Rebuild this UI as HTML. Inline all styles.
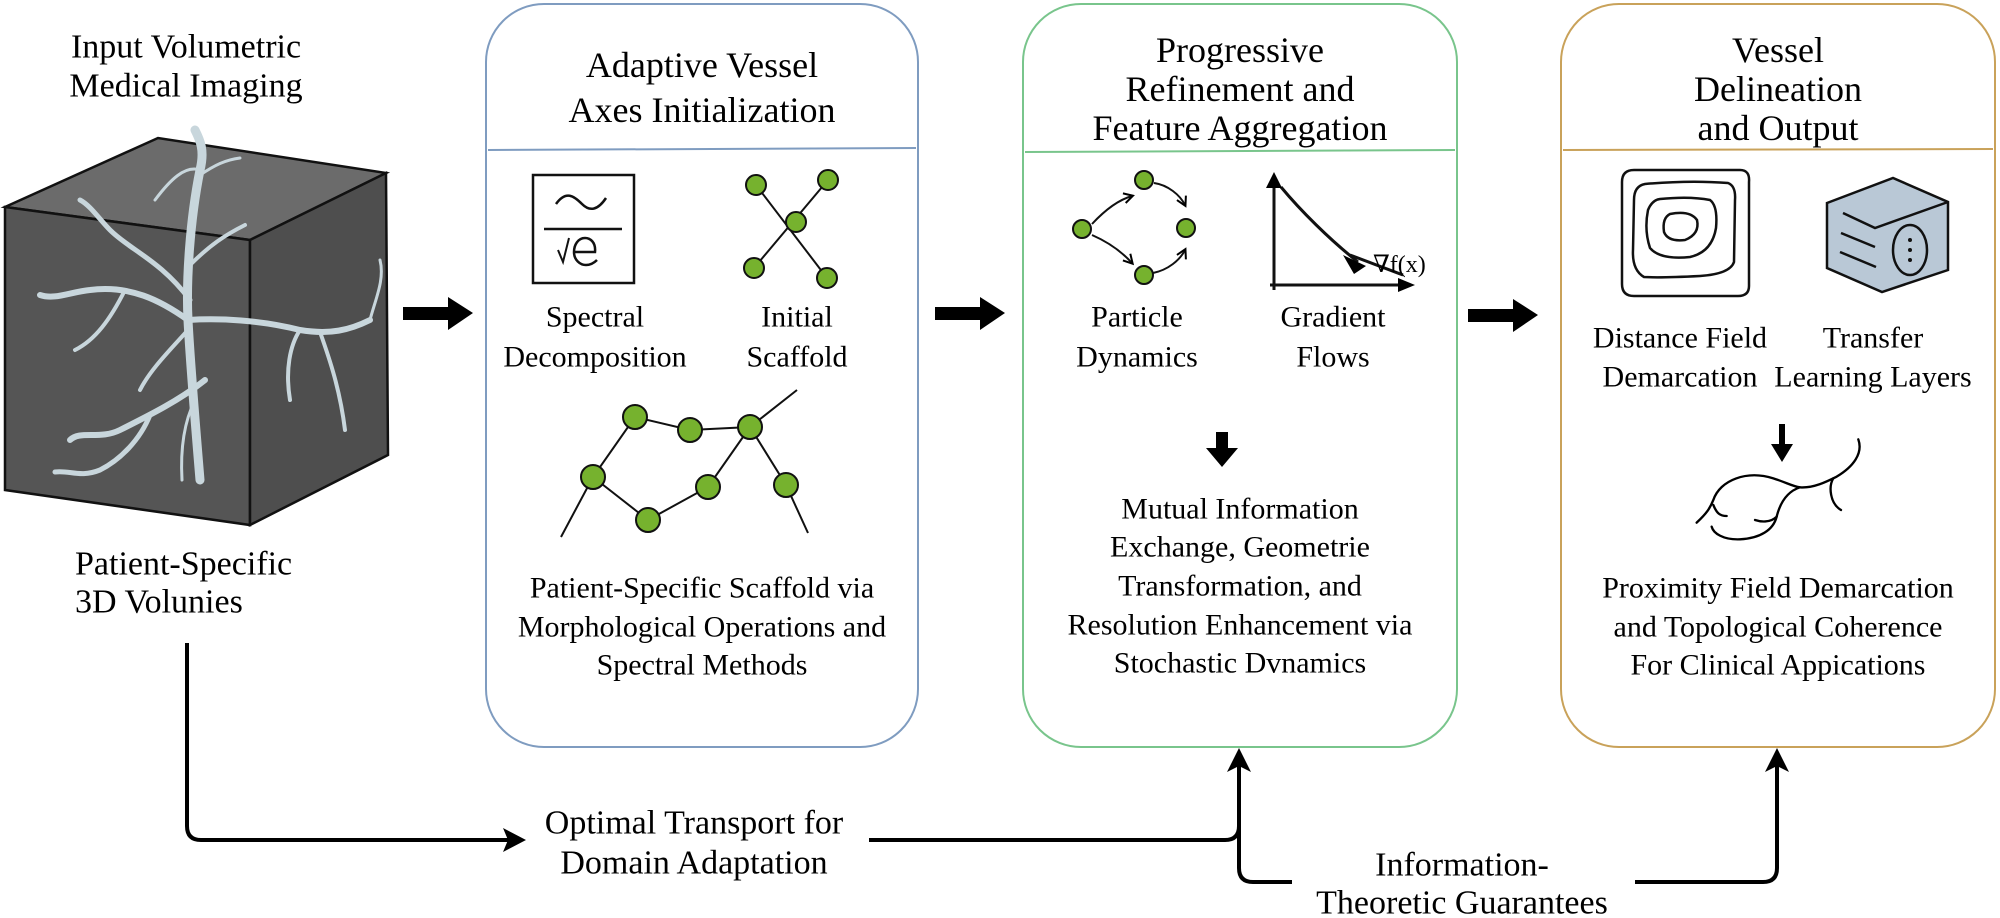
<!DOCTYPE html>
<html><head><meta charset="utf-8"><style>
html,body{margin:0;padding:0;background:#fff}
svg{display:block}
svg text{font-family:"Liberation Serif","Times New Roman","DejaVu Serif",Times,serif !important;fill:#000}
</style></head><body>
<svg width="2000" height="918" viewBox="0 0 2000 918" xmlns="http://www.w3.org/2000/svg" font-family="Liberation Serif, Times New Roman, serif">
<defs>
<marker id="ahs" markerWidth="14" markerHeight="14" refX="10" refY="7" orient="auto" markerUnits="userSpaceOnUse"><path d="M2,2 L11,7 L2,12" fill="none" stroke="#000" stroke-width="2"/></marker>
</defs>
<rect width="2000" height="918" fill="#fff"/>

<g font-size="34" text-anchor="middle" dominant-baseline="central">
<text x="186" y="47">Input Volumetric</text>
<text x="186" y="86">Medical Imaging</text>
</g>
<polygon points="5,207 158,138 386,173 250,240" fill="#6b6b6b" stroke="#111" stroke-width="2.5"/>
<polygon points="5,207 250,240 250,525 5,490" fill="#555" stroke="#111" stroke-width="2.5"/>
<polygon points="250,240 386,173 388,455 250,525" fill="#4e4e4e" stroke="#111" stroke-width="2.5"/>
<g fill="none" stroke="#c8d6dc" stroke-linecap="round">
<path d="M200,480 C195,420 190,360 188,320 C186,280 190,220 200,170 C205,150 200,140 195,130" stroke-width="9"/>
<path d="M188,320 C160,300 130,285 90,290 C70,292 55,300 40,295" stroke-width="6"/>
<path d="M188,320 C220,318 260,320 300,330 C330,335 350,330 370,320" stroke-width="6"/>
<path d="M190,300 C160,260 130,250 110,230 C100,220 90,205 80,200" stroke-width="5"/>
<path d="M190,265 C210,245 225,235 245,225" stroke-width="4"/>
<path d="M200,170 C185,165 170,180 155,200" stroke-width="3"/>
<path d="M200,175 C215,165 225,160 240,158" stroke-width="3"/>
<path d="M205,380 C180,400 150,415 120,430 C100,440 80,430 70,440" stroke-width="6"/>
<path d="M150,415 C140,440 120,460 100,470 C80,478 70,470 55,472" stroke-width="5"/>
<path d="M188,330 C170,350 150,370 140,390" stroke-width="4"/>
<path d="M195,400 C185,420 180,445 182,480" stroke-width="3"/>
<path d="M125,290 C110,320 95,340 75,350" stroke-width="4"/>
<path d="M300,330 C290,345 285,370 290,400" stroke-width="4"/>
<path d="M320,332 C330,360 340,390 345,430" stroke-width="4"/>
<path d="M370,320 C375,300 385,280 380,260" stroke-width="3"/>
</g>
<g font-size="34" dominant-baseline="central">
<text x="75" y="564">Patient-Specific</text>
<text x="75" y="602">3D Volunies</text>
</g>

<g fill="#000">
<path d="M403,307 L448,307 L448,297 L473,313 L448,330 L448,320 L403,320 z"/>
<path d="M935,307 L980,307 L980,297 L1005,313 L980,330 L980,320 L935,320 z"/>
<path d="M1468,309 L1513,309 L1513,299 L1538,315 L1513,332 L1513,322 L1468,322 z"/>
</g>

<rect x="486" y="4" width="432" height="743" rx="58" fill="none" stroke="#7f9cc0" stroke-width="2"/>
<line x1="488" y1="150" x2="916" y2="148" stroke="#7f9cc0" stroke-width="2"/>
<rect x="1023" y="4" width="434" height="743" rx="58" fill="none" stroke="#79c58c" stroke-width="2"/>
<line x1="1025" y1="152" x2="1455" y2="150" stroke="#79c58c" stroke-width="2"/>
<rect x="1561" y="4" width="434" height="743" rx="58" fill="none" stroke="#c9a25a" stroke-width="2"/>
<line x1="1563" y1="150" x2="1993" y2="149" stroke="#c9a25a" stroke-width="2"/>

<g font-size="36" text-anchor="middle" dominant-baseline="central">
<text x="702" y="65">Adaptive Vessel</text>
<text x="702" y="110">Axes Initialization</text>
<text x="1240" y="50">Progressive</text>
<text x="1240" y="89">Refinement and</text>
<text x="1240" y="128">Feature Aggregation</text>
<text x="1778" y="50">Vessel</text>
<text x="1778" y="89">Delineation</text>
<text x="1778" y="128">and Output</text>
</g>

<rect x="533" y="175" width="101" height="108" fill="#fff" stroke="#111" stroke-width="2.5"/>
<path d="M556,204 C566,190 574,196 582,204 C590,212 598,210 606,198" fill="none" stroke="#111" stroke-width="2.5"/>
<line x1="544" y1="229" x2="622" y2="229" stroke="#111" stroke-width="2.5"/>
<path d="M558,250 L563,262 L569,238" fill="none" stroke="#111" stroke-width="2"/>
<path d="M575,252 L595,252 C596,242 590,238 585,238 C578,238 574,245 574,252 C574,260 580,265 586,265 C590,265 594,263 597,260" fill="none" stroke="#111" stroke-width="2.5"/>
<g font-size="30" text-anchor="middle" dominant-baseline="central">
<text x="595" y="317">Spectral</text>
<text x="595" y="357">Decomposition</text>
<text x="797" y="317">Initial</text>
<text x="797" y="357">Scaffold</text>
</g>
<g stroke="#111" stroke-width="2" fill="none">
<line x1="756" y1="185" x2="827" y2="278"/>
<line x1="828" y1="180" x2="754" y2="268"/>
<polyline points="561,537 593,477 635,417 690,430 750,427 797,390"/>
<polyline points="593,477 648,520 708,487 750,427 786,485 808,533"/>
</g>
<g fill="#76b22e" stroke="#111" stroke-width="2">
<circle cx="756" cy="185" r="10"/><circle cx="828" cy="180" r="10"/><circle cx="796" cy="222" r="10"/><circle cx="754" cy="268" r="10"/><circle cx="827" cy="278" r="10"/>
<circle cx="635" cy="417" r="12"/><circle cx="690" cy="430" r="12"/><circle cx="750" cy="427" r="12"/><circle cx="593" cy="477" r="12"/><circle cx="648" cy="520" r="12"/><circle cx="708" cy="487" r="12"/><circle cx="786" cy="485" r="12"/>
</g>
<g font-size="30" text-anchor="middle" dominant-baseline="central">
<text x="702" y="588">Patient-Specific Scaffold via</text>
<text x="702" y="627">Morphological Operations and</text>
<text x="702" y="665">Spectral Methods</text>
</g>

<g stroke="#111" stroke-width="2" fill="none" marker-end="url(#ahs)">
<path d="M1092,224 C1105,210 1118,200 1132,196"/>
<path d="M1092,235 C1108,242 1122,252 1132,263"/>
<path d="M1154,183 C1168,185 1180,195 1185,205"/>
<path d="M1153,273 C1168,270 1180,260 1185,250"/>
</g>
<g fill="#76b22e" stroke="#111" stroke-width="2">
<circle cx="1082" cy="229" r="9"/><circle cx="1144" cy="180" r="9"/><circle cx="1186" cy="228" r="9"/><circle cx="1144" cy="275" r="9"/>
</g>
<g stroke="#111" stroke-width="3" fill="none">
<line x1="1274" y1="290" x2="1274" y2="185"/>
<line x1="1270" y1="285" x2="1400" y2="285"/>
<path d="M1281,187 C1300,210 1330,240 1358,262"/>
<line x1="1350" y1="255" x2="1403" y2="275"/>
</g>
<path d="M1266,188 L1274,172 L1282,188 z" fill="#000"/>
<path d="M1398,278 L1415,285 L1398,292 z" fill="#000"/>
<path d="M1343,255 L1366,266 L1354,274 z" fill="#000"/>
<text x="1373" y="265" font-size="24" dominant-baseline="central">∇f(x)</text>
<g font-size="30" text-anchor="middle" dominant-baseline="central">
<text x="1137" y="317">Particle</text>
<text x="1137" y="357">Dynamics</text>
<text x="1333" y="317">Gradient</text>
<text x="1333" y="357">Flows</text>
</g>
<path d="M1216,432 L1228,432 L1228,448 L1238,448 L1222,467 L1206,448 L1216,448 z" fill="#000"/>
<g font-size="30" text-anchor="middle" dominant-baseline="central">
<text x="1240" y="509">Mutual Information</text>
<text x="1240" y="547">Exchange, Geometrie</text>
<text x="1240" y="586">Transformation, and</text>
<text x="1240" y="625">Resolution Enhancement via</text>
<text x="1240" y="663">Stochastic Dvnamics</text>
</g>

<g fill="none" stroke="#111" stroke-width="2.5">
<path d="M1634,170 L1740,170 Q1750,170 1749,182 L1749,286 Q1749,296 1738,296 L1634,296 Q1622,296 1622,284 L1622,182 Q1622,170 1634,170 z"/>
<path d="M1645,184 Q1690,180 1728,183 Q1736,186 1735,200 L1734,262 Q1730,274 1700,276 Q1660,278 1644,277 Q1632,270 1633,250 L1634,200 Q1634,186 1645,184 z"/>
<path d="M1660,199 Q1690,196 1710,200 Q1718,206 1716,228 Q1712,252 1690,257 Q1660,260 1650,248 Q1644,230 1648,210 Q1652,200 1660,199 z"/>
<path d="M1670,214 Q1690,210 1697,220 Q1700,234 1685,240 Q1668,242 1664,232 Q1662,218 1670,214 z"/>
</g>
<polygon points="1827,203 1893,178 1948,202 1948,270 1882,292 1827,268" fill="#b9c8d6" stroke="#111" stroke-width="2.5"/>
<polyline points="1843,213 1875,228 1948,202" fill="none" stroke="#111" stroke-width="2.5"/>
<line x1="1841" y1="233" x2="1875" y2="247" stroke="#111" stroke-width="2.5"/>
<line x1="1840" y1="252" x2="1876" y2="267" stroke="#111" stroke-width="2.5"/>
<ellipse cx="1910" cy="250" rx="17" ry="25" fill="none" stroke="#111" stroke-width="2.5"/>
<g fill="#111"><circle cx="1910" cy="240" r="2"/><circle cx="1910" cy="250" r="2"/><circle cx="1910" cy="260" r="2"/></g>
<g font-size="30" text-anchor="middle" dominant-baseline="central">
<text x="1680" y="338">Distance Field</text>
<text x="1680" y="377">Demarcation</text>
<text x="1873" y="338">Transfer</text>
<text x="1873" y="377">Learning Layers</text>
</g>
<path d="M1779,424 L1785,424 L1785,444 L1793,444 L1782,462 L1771,444 L1779,444 z" fill="#000"/>
<g transform="translate(1680,420) scale(0.3333)" fill="none" stroke="#000" stroke-width="7" stroke-linecap="round">
<path d="M50,308 C80,280 90,265 100,240 C120,180 200,150 280,175 C320,188 340,200 360,202 C400,205 440,185 470,170 C520,140 550,100 535,58"/>
<path d="M360,202 C320,215 300,250 290,290 C280,330 240,355 180,358 C130,360 100,340 95,320"/>
<path d="M100,255 C110,280 120,288 140,288"/>
<path d="M225,300 C240,305 270,310 290,290"/>
<path d="M460,175 C445,200 450,250 483,270"/>
</g>
<g font-size="30" text-anchor="middle" dominant-baseline="central">
<text x="1778" y="588">Proximity Field Demarcation</text>
<text x="1778" y="627">and Topological Coherence</text>
<text x="1778" y="665">For Clinical Appications</text>
</g>

<g fill="none" stroke="#000" stroke-width="4">
<path d="M187,643 L187,826 Q187,840 201,840 L508,840"/>
<path d="M869,840 L1225,840 Q1239,840 1239,826 L1239,765"/>
<path d="M1239,826 L1239,868 Q1239,882 1253,882 L1292,882"/>
<path d="M1635,882 L1763,882 Q1777,882 1777,868 L1777,765"/>
</g>
<g fill="#000">
<path d="M503,828 L526,840 L503,852 L508,840 z"/>
<path d="M1227,772 L1239,748 L1251,772 L1239,766 z"/>
<path d="M1765,772 L1777,748 L1789,772 L1777,766 z"/>
</g>
<g font-size="34" text-anchor="middle" dominant-baseline="central">
<text x="694" y="823">Optimal Transport for</text>
<text x="694" y="863">Domain Adaptation</text>
<text x="1462" y="865">Information-</text>
<text x="1462" y="903">Theoretic Guarantees</text>
</g>
</svg>
</body></html>
